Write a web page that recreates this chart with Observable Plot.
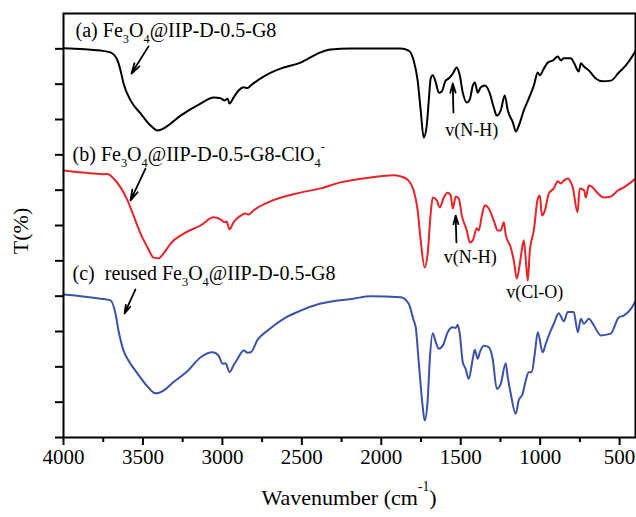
<!DOCTYPE html>
<html>
<head>
<meta charset="utf-8">
<script src="https://cdn.jsdelivr.net/npm/d3@7"></script>
<script src="https://cdn.jsdelivr.net/npm/@observablehq/plot@0.6"></script>
<style>
  html, body { margin: 0; padding: 0; background: #fff; }
  #chart svg { display: block; }
</style>
</head>
<body>
<div id="chart"></div>
<script>
// Spectrum (a) Fe3O4@IIP-D-0.5-G8 — black
const waveA = [4000,3767,3704,3660,3641,3622,3578,3515,3452,3408,3358,3263,3137,3055,3011,2986,2967,2955,2930,2898,2866,2841,2822,2728,2634,2508,2382,2319,2193,2004,1878,1828,1796,1771,1752,1733,1714,1701,1689,1676,1657,1638,1620,1595,1576,1550,1525,1506,1487,1462,1443,1424,1411,1393,1374,1348,1317,1292,1273,1248,1223,1204,1172,1153,1134,1103,1072,1040,1015,1002,977,952,920,889,870,851,807,788,757,744,725,694,650,606,555,505,461,417,400];
const tA = [110.2,109.5,109.0,106.7,103.9,100.2,95.4,91.7,88.3,86.9,87.8,91.1,94.5,96.2,96.0,95.4,95.9,94.5,96.2,98.2,99.1,98.9,99.6,102.5,104.4,106.1,109.0,109.8,110.1,110.1,110.1,109.5,106.7,101.0,92.6,84.9,88.3,95.4,101.6,102.5,100.5,97.6,97.9,101.0,101.6,103.0,104.7,102.5,97.6,94.8,95.7,99.6,100.5,97.6,99.1,99.6,97.4,93.4,91.1,92.6,96.8,92.6,89.2,86.6,88.3,92.6,95.9,99.6,103.3,102.5,104.4,106.1,106.7,107.8,106.7,107.3,107.3,106.1,103.6,105.9,105.0,103.9,101.6,100.8,101.0,103.3,105.3,108.1,109.5];

// Spectrum (b) Fe3O4@IIP-D-0.5-G8-ClO4- — red
const waveB = [4000,3830,3748,3723,3685,3641,3597,3559,3515,3471,3433,3402,3370,3326,3244,3137,3055,3011,2986,2974,2955,2930,2885,2854,2835,2803,2715,2508,2382,2256,2067,1922,1878,1828,1796,1771,1752,1727,1708,1689,1676,1651,1632,1607,1582,1563,1550,1531,1512,1493,1462,1443,1424,1399,1386,1367,1348,1323,1292,1267,1248,1229,1216,1185,1166,1147,1128,1116,1103,1090,1078,1065,1040,1015,1002,989,970,945,914,889,870,851,826,807,795,765,751,723,713,694,675,637,600,555,511,473,429,400];
const tB = [75.6,74.8,74.5,74.6,73.3,70.8,67.1,62.8,57.7,53.8,50.9,50.7,52.1,54.9,57.7,60.0,62.3,61.7,60.9,61.1,58.9,60.9,62.8,63.4,63.1,64.3,66.5,69.3,70.5,72.2,73.6,74.2,73.9,72.7,69.9,64.3,55.8,48.1,52.1,63.4,67.9,67.1,65.1,67.9,69.3,68.5,64.8,68.2,67.6,62.8,58.6,55.2,55.8,59.2,58.6,62.8,65.7,64.8,61.4,58.6,58.6,60.9,57.2,53.8,50.1,45.0,49.2,52.9,55.8,50.1,44.4,52.9,58.6,67.6,68.5,62.8,64.3,69.1,70.5,72.5,71.9,72.7,73.3,72.2,70.8,63.7,70.5,69.9,67.9,71.3,71.0,69.1,67.9,68.2,69.9,70.8,72.2,73.3];

// Spectrum (c) reused Fe3O4@IIP-D-0.5-G8 — blue
const waveC = [4000,3767,3704,3673,3654,3622,3591,3534,3471,3421,3370,3307,3219,3137,3062,3024,2999,2980,2955,2930,2904,2866,2841,2822,2778,2715,2615,2508,2382,2174,2067,1878,1828,1796,1783,1765,1739,1727,1708,1695,1676,1657,1639,1613,1582,1550,1532,1519,1506,1487,1469,1450,1424,1412,1393,1380,1355,1324,1299,1273,1248,1217,1204,1185,1154,1135,1110,1091,1072,1053,1034,1015,984,965,933,914,883,851,826,789,763,744,725,694,662,618,556,505,474,429,398];
const tC = [40.5,39.3,38.8,35.1,30.3,24.6,21.8,18.1,14.4,12.5,13.3,15.7,18.8,22.7,24.1,23.2,20.9,21.0,18.5,20.4,22.3,24.6,24.0,24.1,27.7,30.3,33.6,35.9,37.9,39.3,40.0,39.7,37.9,33.1,31.2,21.8,8.6,4.8,10.5,21.8,29.5,27.0,25.1,26.0,29.8,31.2,31.0,31.9,29.4,21.3,19.4,16.6,22.3,24.8,22.3,24.1,26.0,25.6,22.3,13.8,15.2,21.0,17.1,12.4,6.7,10.5,12.4,16.1,18.5,18.5,23.7,29.8,24.1,26.5,30.3,32.2,35.2,32.9,35.5,35.5,29.8,33.6,32.2,33.6,31.7,28.9,29.4,34.0,34.5,36.4,38.8];

// Tick values
const xMajorTicks = [4000,3500,3000,2500,2000,1500,1000,500];
const xMinorTicks = [3750,3250,2750,2250,1750,1250,750];
const yTicks = [0,10,20,30,40,50,60,70,80,90,100,110];

// Labels (use _n for subscript, ^s for superscript)
const seriesLabels = ["(a) Fe_3O_4@IIP-D-0.5-G8", "(b) Fe_3O_4@IIP-D-0.5-G8-ClO_4^-", "(c)\u00a0 reused Fe_3O_4@IIP-D-0.5-G8"];
const labelWave = [3924, 3943, 3943];
const labelT = [115.2, 80.1, 46.4];
const arrowFromWave = [3465, 3484, 3547];
const arrowFromT = [110.7, 76.1, 41.9];
const arrowToWave = [3572, 3578, 3616];
const arrowToT = [103.0, 67.1, 35.1];

const bandLabels = ["v(N-H)", "v(N-H)", "v(Cl-O)"];
const bandWave = [1431, 1440, 1034];
const bandT = [86.9, 51.0, 41.1];
const bandArrowFromWave = [1546, 1527];
const bandArrowFromT = [92.0, 55.2];
const bandArrowToWave = [1550, 1532];
const bandArrowToT = [100.2, 62.8];

const colors = ["#000000", "#e8232a", "#3a52ab"];

const mk = (w, t) => w.map((x, i) => ({x, y: t[i]}));
const A = mk(waveA, tA), B = mk(waveB, tB), C = mk(waveC, tC);
const labels = seriesLabels.map((s, i) => ({s, x: labelWave[i], y: labelT[i]}));
const arrows = arrowFromWave.map((x1, i) => ({x1, y1: arrowFromT[i], x2: arrowToWave[i], y2: arrowToT[i]}))
  .concat(bandArrowFromWave.map((x1, i) => ({x1, y1: bandArrowFromT[i], x2: bandArrowToWave[i], y2: bandArrowToT[i]})));
const bands = bandLabels.map((s, i) => ({s, x: bandWave[i], y: bandT[i]}));

const font = "'Liberation Serif', 'Times New Roman', serif";

const chart = Plot.plot({
  width: 636,
  height: 517,
  marginLeft: 63,
  marginRight: 1,
  marginTop: 13,
  marginBottom: 80,
  style: {fontFamily: font, background: "#fff"},
  x: {domain: [4000, 400]},
  y: {domain: [0, 120]},
  marks: [
    Plot.line(A, {x: "x", y: "y", stroke: colors[0], strokeWidth: 2, curve: "monotone-x"}),
    Plot.line(B, {x: "x", y: "y", stroke: colors[1], strokeWidth: 2, curve: "monotone-x"}),
    Plot.line(C, {x: "x", y: "y", stroke: colors[2], strokeWidth: 2, curve: "monotone-x"}),
    Plot.axisX({ticks: xMinorTicks, tickSize: 5, strokeWidth: 2, tickFormat: () => "", label: null}),
    Plot.axisX({ticks: xMajorTicks, tickSize: 8, strokeWidth: 2, tickPadding: 4, fontSize: 21, tickFormat: d => String(d), label: null, fill: "#000"}),
    Plot.axisY({ticks: yTicks, tickSize: 8, strokeWidth: 2, tickFormat: () => "", label: null}),
    Plot.frame({stroke: "#000", strokeWidth: 2}),
    Plot.arrow(arrows, {x1: "x1", y1: "y1", x2: "x2", y2: "y2", stroke: "#000", strokeWidth: 1.8, headLength: 9, headAngle: 32}),
    Plot.text(labels, {x: "x", y: "y", text: "s", textAnchor: "start", fontSize: 20, fill: "#000"}),
    Plot.text(bands, {x: "x", y: "y", text: "s", textAnchor: "middle", fontSize: 18, fill: "#000"})
  ]
});

const svg = d3.select(chart);
// Axis titles
svg.append("text")
  .attr("x", 349).attr("y", 500)
  .attr("text-anchor", "middle").attr("dominant-baseline", "middle")
  .attr("font-size", 22).attr("font-family", font).attr("fill", "#000")
  .text("Wavenumber (cm^-1)");
svg.append("text")
  .attr("transform", "translate(23,231) rotate(-90)")
  .attr("text-anchor", "middle").attr("dominant-baseline", "middle")
  .attr("font-size", 22).attr("font-family", font).attr("fill", "#000")
  .text("T(%)");

// Rich text: _x subscripts, ^x superscripts
function enrich(node) {
  const s = node.textContent;
  node.textContent = "";
  const parts = [];
  let i = 0;
  while (i < s.length) {
    const c = s[i];
    if (c === "_" || c === "^") {
      let j = i + 1, t;
      if (s[j] === "-" && s[j + 1] === "1") { t = "-1"; j += 2; }
      else { t = s[j]; j += 1; }
      parts.push({t, kind: c});
      i = j;
    } else {
      let j = i;
      while (j < s.length && s[j] !== "_" && s[j] !== "^") j++;
      parts.push({t: s.slice(i, j), kind: ""});
      i = j;
    }
  }
  const ns = "http://www.w3.org/2000/svg";
  for (const p of parts) {
    const ts = document.createElementNS(ns, "tspan");
    ts.textContent = p.t;
    if (p.kind === "_") {
      ts.setAttribute("font-size", "0.62em");
      ts.setAttribute("baseline-shift", "-0.45em");
    } else if (p.kind === "^") {
      ts.setAttribute("font-size", "0.62em");
      ts.setAttribute("baseline-shift", "0.9em");
    }
    node.appendChild(ts);
  }
}
svg.selectAll("text").each(function() {
  const t = this.textContent;
  if (t && /[_^]/.test(t) && this.childElementCount === 0) enrich(this);
});

document.getElementById("chart").appendChild(chart);
</script>
</body>
</html>
